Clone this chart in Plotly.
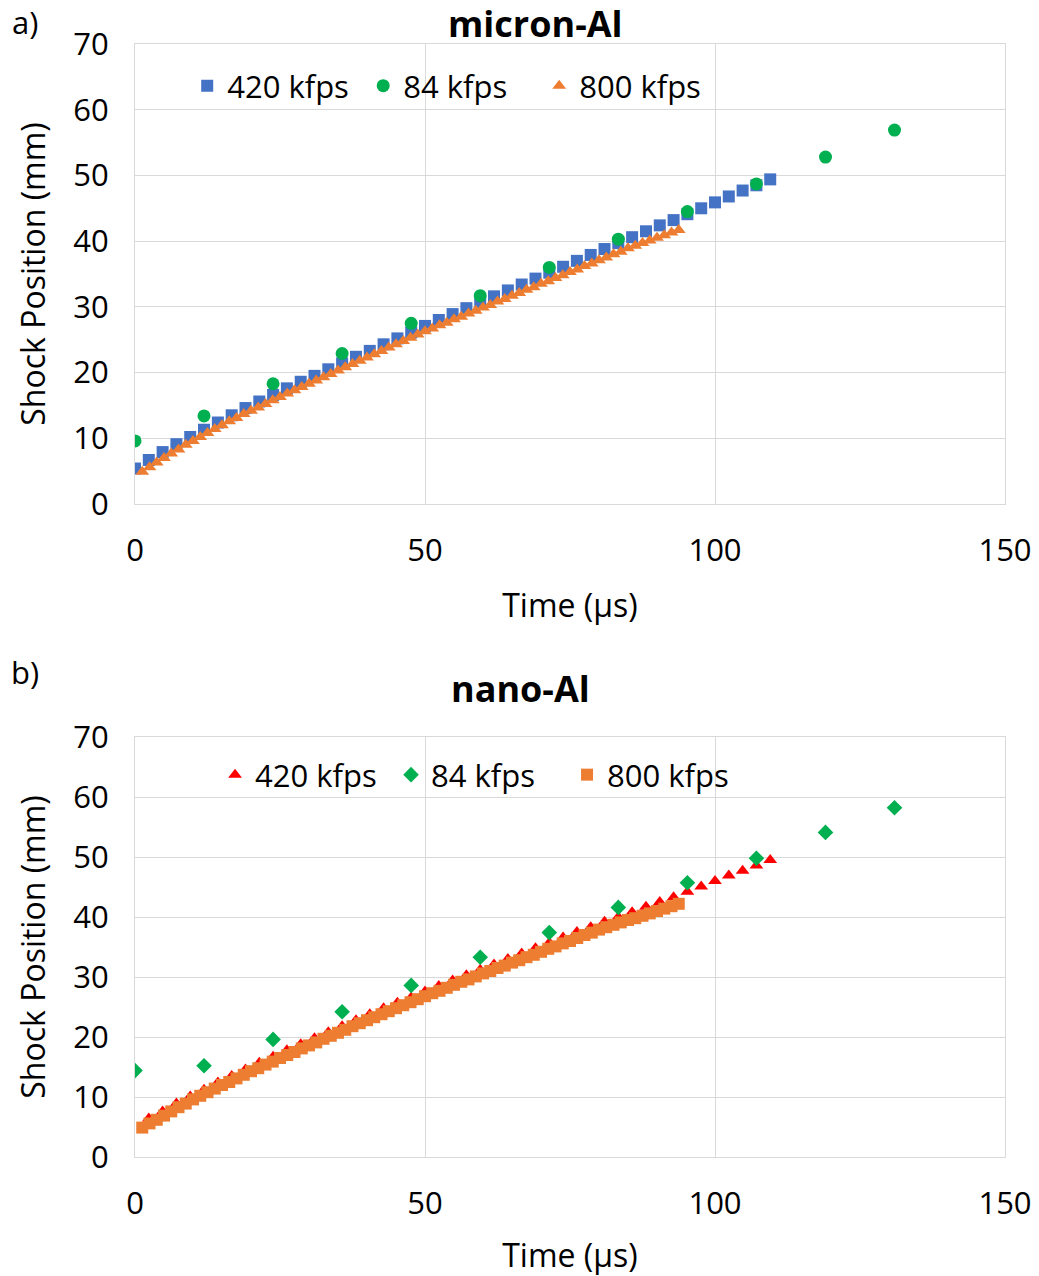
import plotly.graph_objects as go

# ---------------- data: panel a) micron-Al ----------------
t_420 = [0.00, 2.38, 4.76, 7.14, 9.52, 11.90, 14.29, 16.67, 19.05, 21.43, 23.81, 26.19,
         28.57, 30.95, 33.33, 35.71, 38.10, 40.48, 42.86, 45.24, 47.62, 50.00, 52.38,
         54.76, 57.14, 59.52, 61.90, 64.29, 66.67, 69.05, 71.43, 73.81, 76.19, 78.57,
         80.95, 83.33, 85.71, 88.10, 90.48, 92.86, 95.24, 97.62, 100.00, 102.38, 104.76,
         107.14, 109.52]
a_420 = [5.4, 6.7, 7.9, 9.1, 10.2, 11.3, 12.4, 13.5, 14.6, 15.6, 16.6, 17.6, 18.6, 19.5,
         20.5, 21.4, 22.4, 23.3, 24.3, 25.2, 26.1, 27.1, 28.0, 28.9, 29.8, 30.7, 31.6,
         32.5, 33.4, 34.3, 35.2, 36.1, 37.0, 37.9, 38.8, 39.7, 40.6, 41.5, 42.4, 43.2,
         44.1, 45.0, 45.9, 46.8, 47.7, 48.5, 49.4]

t_84 = [0.00, 11.90, 23.81, 35.71, 47.62, 59.52, 71.43, 83.33, 95.24, 107.14, 119.05, 130.95]
a_84 = [9.6, 13.4, 18.3, 22.9, 27.5, 31.7, 36.0, 40.3, 44.5, 48.7, 52.8, 56.9]

t_800 = [1.25, 2.50, 3.75, 5.00, 6.25, 7.50, 8.75, 10.00, 11.25, 12.50, 13.75, 15.00,
         16.25, 17.50, 18.75, 20.00, 21.25, 22.50, 23.75, 25.00, 26.25, 27.50, 28.75,
         30.00, 31.25, 32.50, 33.75, 35.00, 36.25, 37.50, 38.75, 40.00, 41.25, 42.50,
         43.75, 45.00, 46.25, 47.50, 48.75, 50.00, 51.25, 52.50, 53.75, 55.00, 56.25,
         57.50, 58.75, 60.00, 61.25, 62.50, 63.75, 65.00, 66.25, 67.50, 68.75, 70.00,
         71.25, 72.50, 73.75, 75.00, 76.25, 77.50, 78.75, 80.00, 81.25, 82.50, 83.75,
         85.00, 86.25, 87.50, 88.75, 90.00, 91.25, 92.50, 93.75]
a_800 = [4.9, 5.6, 6.3, 7.0, 7.7, 8.3, 9.0, 9.6, 10.2, 10.8, 11.4, 12.0, 12.6, 13.1, 13.7,
         14.2, 14.7, 15.2, 15.8, 16.3, 16.8, 17.3, 17.8, 18.3, 18.8, 19.3, 19.8, 20.3,
         20.8, 21.3, 21.8, 22.3, 22.8, 23.3, 23.8, 24.3, 24.8, 25.3, 25.8, 26.3, 26.7,
         27.2, 27.6, 28.1, 28.5, 29.0, 29.4, 29.9, 30.3, 30.8, 31.2, 31.7, 32.1, 32.6,
         33.0, 33.5, 33.9, 34.4, 34.8, 35.3, 35.7, 36.2, 36.6, 37.1, 37.5, 38.0, 38.4,
         38.9, 39.3, 39.7, 40.1, 40.5, 40.9, 41.3, 41.7]

# ---------------- data: panel b) nano-Al ----------------
t_420b = t_420[1:]
b_420 = [6.4, 7.6, 8.9, 10.1, 11.2, 12.4, 13.5, 14.6, 15.7, 16.7, 17.8, 18.8, 19.8, 20.8,
         21.8, 22.8, 23.8, 24.8, 25.7, 26.6, 27.6, 28.5, 29.4, 30.3, 31.2, 32.1, 33.0,
         33.9, 34.8, 35.7, 36.6, 37.5, 38.3, 39.2, 40.0, 40.8, 41.7, 42.5, 43.3, 44.2,
         45.1, 46.0, 46.9, 47.7, 48.6, 49.5]
b_84 = [14.4, 15.2, 19.6, 24.2, 28.6, 33.3, 37.4, 41.6, 45.7, 49.8, 54.1, 58.2]
b_800 = [4.9, 5.6, 6.2, 6.9, 7.6, 8.3, 8.9, 9.6, 10.2, 10.8, 11.4, 12.0, 12.5, 13.1, 13.7,
         14.3, 14.8, 15.4, 15.9, 16.5, 17.0, 17.5, 18.1, 18.6, 19.1, 19.7, 20.2, 20.7,
         21.2, 21.8, 22.3, 22.8, 23.3, 23.8, 24.3, 24.8, 25.3, 25.8, 26.3, 26.8, 27.3,
         27.7, 28.2, 28.7, 29.2, 29.6, 30.1, 30.6, 31.0, 31.5, 31.9, 32.4, 32.8, 33.3,
         33.7, 34.2, 34.7, 35.1, 35.6, 36.0, 36.5, 37.0, 37.4, 37.9, 38.3, 38.7, 39.1,
         39.5, 39.8, 40.2, 40.6, 41.0, 41.4, 41.8, 42.2]

x_ticks = [0, 50, 100, 150]
y_ticks = [0, 10, 20, 30, 40, 50, 60, 70]

FONT = "Open Sans"
GRID = "#D9D9D9"

fig = go.Figure()

# panel a
fig.add_trace(go.Scatter(x=t_420, y=a_420, mode="markers", name="420 kfps",
                         marker=dict(symbol="square", size=12, color="#4472C4"),
                         xaxis="x", yaxis="y", legend="legend"))
fig.add_trace(go.Scatter(x=t_84, y=a_84, mode="markers", name="84 kfps",
                         marker=dict(symbol="circle", size=13, color="#00B050"),
                         xaxis="x", yaxis="y", legend="legend"))
fig.add_trace(go.Scatter(x=t_800, y=a_800, mode="markers", name="800 kfps",
                         marker=dict(symbol="triangle-up", size=12, color="#ED7D31"),
                         xaxis="x", yaxis="y", legend="legend"))

# panel b
fig.add_trace(go.Scatter(x=t_420b, y=b_420, mode="markers", name="420 kfps",
                         marker=dict(symbol="triangle-up", size=12, color="#FF0000"),
                         xaxis="x2", yaxis="y2", legend="legend2"))
fig.add_trace(go.Scatter(x=t_84, y=b_84, mode="markers", name="84 kfps",
                         marker=dict(symbol="diamond", size=12, color="#00B050"),
                         xaxis="x2", yaxis="y2", legend="legend2"))
fig.add_trace(go.Scatter(x=t_800, y=b_800, mode="markers", name="800 kfps",
                         marker=dict(symbol="square", size=12, color="#ED7D31"),
                         xaxis="x2", yaxis="y2", legend="legend2"))

xax = dict(range=[0, 150], tickvals=x_ticks, showgrid=True, gridcolor=GRID, gridwidth=1,
           showline=True, mirror=True, linecolor=GRID, linewidth=1, zeroline=False,
           automargin=False,
           ticks="", tickfont=dict(family=FONT, size=31, color="black"),
           ticklabelstandoff=19,
           title=dict(text="Time (µs)", font=dict(family=FONT, size=32, color="black"),
                      standoff=25))
yax = dict(range=[0, 70], tickvals=y_ticks, showgrid=True, gridcolor=GRID, gridwidth=1,
           showline=True, mirror=True, linecolor=GRID, linewidth=1, zeroline=False,
           automargin=False,
           ticks="", tickfont=dict(family=FONT, size=31, color="black"),
           ticklabelstandoff=19,
           title=dict(text="Shock Position (mm)", font=dict(family=FONT, size=32, color="black"),
                      standoff=18))

H = 1113.0
top_lo = (1157 - 504) / H
bot_hi = (1157 - 737) / H

leg_common = dict(orientation="h", xanchor="left", yanchor="middle",
                  entrywidth=131, entrywidthmode="pixels",
                  font=dict(family=FONT, size=31, color="black"), bgcolor="rgba(0,0,0,0)")

fig.update_layout(
    width=1039, height=1276,
    margin=dict(l=135, r=34, t=44, b=119),
    paper_bgcolor="white", plot_bgcolor="white",
    font=dict(family=FONT, color="black"),
    xaxis=dict(xax, domain=[0, 1], anchor="y"),
    yaxis=dict(yax, domain=[top_lo, 1], anchor="x"),
    xaxis2=dict(xax, domain=[0, 1], anchor="y2"),
    yaxis2=dict(yax, domain=[0, bot_hi], anchor="x2"),
    legend=dict(leg_common, x=0.06, y=(1157 - 86) / H),
    legend2=dict(leg_common, x=0.092, y=(1157 - 775) / H),
    annotations=[
        dict(text="<b>micron-Al</b>", x=(535 - 135) / 870, y=(1157 - 23) / H, xref="paper",
             yref="paper", xanchor="center", yanchor="middle", showarrow=False,
             font=dict(family=FONT, size=36, color="black")),
        dict(text="<b>nano-Al</b>", x=(520 - 135) / 870, y=(1157 - 688) / H, xref="paper",
             yref="paper", xanchor="center", yanchor="middle", showarrow=False,
             font=dict(family=FONT, size=36, color="black")),
        dict(text="a)", x=(25 - 135) / 870, y=(1157 - 22) / H, xref="paper", yref="paper",
             xanchor="center", yanchor="middle", showarrow=False,
             font=dict(family=FONT, size=31, color="black")),
        dict(text="b)", x=(25 - 135) / 870, y=(1157 - 672) / H, xref="paper", yref="paper",
             xanchor="center", yanchor="middle", showarrow=False,
             font=dict(family=FONT, size=31, color="black")),
    ],
)

fig.write_html("out.html")
